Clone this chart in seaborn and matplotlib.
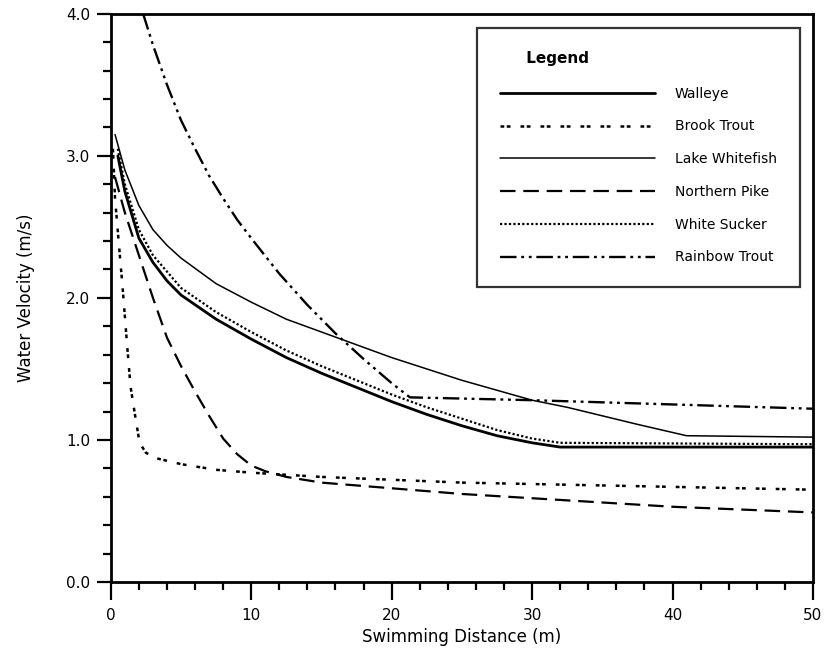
import seaborn as sns
import matplotlib.pyplot as plt
from matplotlib.ticker import MultipleLocator, FormatStrFormatter
import pandas as pd

# swimming distance (m) / water velocity (m/s)
walleye_x = [0.5, 1, 2, 3, 4, 5, 7.5, 10, 12.5, 15, 17.5, 20, 22.5, 25, 27.5, 30, 32, 50]
walleye_y = [3.0, 2.75, 2.42, 2.25, 2.12, 2.02, 1.85, 1.71, 1.58, 1.47, 1.37, 1.27, 1.18, 1.10, 1.03, 0.98, 0.95, 0.95]

brook_x = [0.15, 0.3, 0.6, 0.85, 1.15, 1.4, 1.7, 2.05, 2.5, 3.3, 5, 7.5, 10, 15, 20, 25, 30, 35, 40, 45, 50]
brook_y = [3.05, 2.7, 2.35, 2.06, 1.68, 1.38, 1.19, 0.98, 0.91, 0.87, 0.83, 0.79, 0.77, 0.74, 0.72, 0.70, 0.69, 0.68, 0.67, 0.66, 0.65]

whitefish_x = [0.3, 1, 2, 3, 4, 5, 7.5, 10, 12.5, 15, 17.5, 20, 22.5, 25, 27.5, 30, 32.5, 35, 37.5, 41, 50]
whitefish_y = [3.15, 2.9, 2.65, 2.48, 2.37, 2.28, 2.1, 1.97, 1.85, 1.76, 1.67, 1.58, 1.5, 1.42, 1.35, 1.28, 1.23, 1.17, 1.11, 1.03, 1.02]

pike_x = [0.3, 1, 2, 3, 4, 5, 6, 7, 8, 9, 10, 11, 12.5, 15, 20, 25, 30, 35, 40, 45, 50]
pike_y = [2.85, 2.6, 2.3, 2.0, 1.72, 1.52, 1.34, 1.17, 1.01, 0.9, 0.82, 0.78, 0.74, 0.70, 0.66, 0.62, 0.59, 0.56, 0.53, 0.51, 0.49]

sucker_x = [0.5, 1, 2, 3, 5, 7.5, 10, 12.5, 15, 17.5, 20, 22.5, 25, 27.5, 30, 32, 50]
sucker_y = [3.05, 2.8, 2.48, 2.3, 2.07, 1.9, 1.76, 1.63, 1.52, 1.42, 1.32, 1.23, 1.15, 1.07, 1.01, 0.98, 0.97]

rainbow_x = [2.3, 3, 4, 5, 6, 7, 8, 9, 10, 12, 14, 16, 18, 20, 21.3, 30, 40, 50]
rainbow_y = [4.0, 3.78, 3.5, 3.25, 3.05, 2.86, 2.7, 2.55, 2.42, 2.17, 1.95, 1.75, 1.57, 1.40, 1.30, 1.28, 1.25, 1.22]

series = [
    ("Walleye", walleye_x, walleye_y, "-", 2.0),
    ("Brook Trout", brook_x, brook_y, (0, (1.5, 1, 1.5, 4)), 1.8),
    ("Lake Whitefish", whitefish_x, whitefish_y, "-", 1.1),
    ("Northern Pike", pike_x, pike_y, (0, (7, 3.5)), 1.6),
    ("White Sucker", sucker_x, sucker_y, (0, (1, 1)), 1.6),
    ("Rainbow Trout", rainbow_x, rainbow_y, (0, (7, 2, 1.2, 2, 1.2, 2)), 1.7),
]

sns.set_style("white")
plt.rcParams["font.family"] = ["DejaVu Sans"]
plt.rcParams["text.color"] = "black"
plt.rcParams["axes.labelcolor"] = "black"
plt.rcParams["xtick.color"] = "black"
plt.rcParams["ytick.color"] = "black"

fig = plt.figure(figsize=(8.27, 6.54), dpi=100)
ax = fig.add_axes([0.134, 0.110, 0.849, 0.869])

for name, xs, ys, ls, lw in series:
    df = pd.DataFrame({"x": xs, "y": ys})
    sns.lineplot(data=df, x="x", y="y", ax=ax, color="black", linewidth=lw,
                 linestyle=ls, label=name, sort=False, estimator=None)

ax.set_xlim(0, 50)
ax.set_ylim(0, 4.0)
ax.xaxis.set_major_locator(MultipleLocator(10))
ax.xaxis.set_minor_locator(MultipleLocator(2))
ax.yaxis.set_major_locator(MultipleLocator(1.0))
ax.yaxis.set_minor_locator(MultipleLocator(0.2))
ax.yaxis.set_major_formatter(FormatStrFormatter("%.1f"))

ax.tick_params(axis="x", which="major", direction="out", length=13, width=1.6, labelsize=11, pad=6)
ax.tick_params(axis="x", which="minor", direction="out", length=6, width=1.6)
ax.tick_params(axis="y", which="major", direction="out", length=10, width=1.6, labelsize=11, pad=5)
ax.tick_params(axis="y", which="minor", direction="out", length=6, width=1.6)
ax.tick_params(bottom=True, left=True, which="both")

for s in ax.spines.values():
    s.set_color("black")
    s.set_linewidth(2)

ax.set_xlabel("Swimming Distance (m)", fontsize=12, labelpad=3)
ax.set_ylabel("Water Velocity (m/s)", fontsize=12, labelpad=22)

leg = ax.legend(loc="upper right", bbox_to_anchor=(0.981, 0.975), borderaxespad=0,
                title="     Legend", fontsize=10, handlelength=11.2, handletextpad=1.4,
                labelspacing=1.35, borderpad=1.65, frameon=True, fancybox=False,
                alignment="left", title_fontproperties={"weight": "bold", "size": 11})
leg.get_frame().set_edgecolor("black")
leg.get_frame().set_linewidth(1.6)
leg._legend_box.sep = 15

fig.savefig("out.png", dpi=100)
plt.close(fig)
